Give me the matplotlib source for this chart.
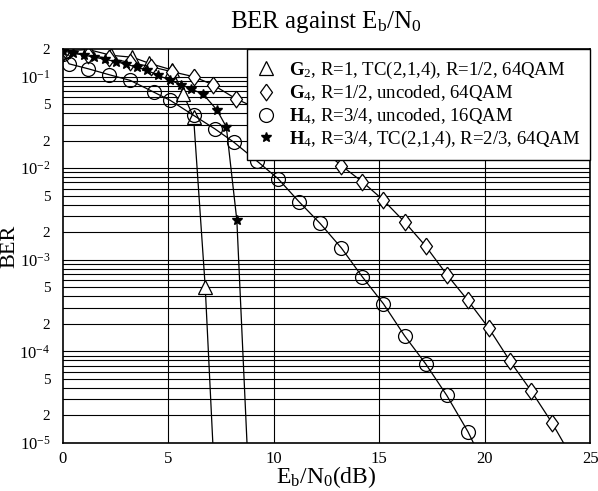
import numpy as np
import matplotlib
matplotlib.use("Agg")
import matplotlib.pyplot as plt
from matplotlib.ticker import FixedLocator

plt.rcParams['font.family'] = ['Liberation Serif', 'DejaVu Serif']
plt.rcParams['mathtext.fontset'] = 'custom'
plt.rcParams['mathtext.rm'] = 'Liberation Serif'
plt.rcParams['mathtext.it'] = 'Liberation Serif:italic'
plt.rcParams['mathtext.bf'] = 'Liberation Serif:bold'

# Series data (Eb/N0 in dB, BER)
tri_x = [0.0, 1.2, 2.3, 3.3, 4.1, 5.2, 5.7, 6.2, 6.75, 7.25]
tri_y = [0.19, 0.198, 0.171, 0.163, 0.14, 0.118, 0.065, 0.036, 5.1e-4, 2.2e-6]

dia_x = [0.0, 1.2, 2.2, 3.2, 4.2, 5.2, 6.2, 7.1, 8.2, 9.2, 10.2, 11.2, 12.2, 13.2,
         14.2, 15.2, 16.2, 17.2, 18.2, 19.2, 20.2, 21.2, 22.2, 23.2, 24.2]
dia_y = [0.185, 0.172, 0.158, 0.143, 0.128, 0.113, 0.1, 0.082, 0.0575, 0.045, 0.034,
         0.025, 0.0168, 0.0107, 0.0071, 0.00447, 0.00259, 0.00141, 6.9e-4, 3.6e-4,
         1.78e-4, 7.8e-5, 3.7e-5, 1.64e-5, 6.5e-6]

cir_x = [0.0, 0.3, 1.2, 2.2, 3.2, 4.3, 5.1, 6.2, 7.2, 8.1, 9.2, 10.2, 11.2, 12.2, 13.2,
         14.2, 15.2, 16.2, 17.2, 18.2, 19.2, 20.2]
cir_y = [0.175, 0.138, 0.122, 0.105, 0.091, 0.068, 0.055, 0.0378, 0.027, 0.0193, 0.012,
         0.0077, 0.0043, 0.00249, 0.00135, 6.5e-4, 3.3e-4, 1.48e-4, 7.3e-5, 3.3e-5,
         1.33e-5, 4.5e-6]

star_x = [0.0, 0.5, 1.0, 1.5, 2.0, 2.5, 3.0, 3.5, 4.0, 4.5, 5.1, 5.6, 6.1, 6.65, 7.3,
          7.75, 8.25, 8.75]
star_y = [0.19, 0.182, 0.172, 0.163, 0.155, 0.146, 0.137, 0.127, 0.117, 0.104, 0.091,
          0.082, 0.073, 0.0645, 0.0435, 0.0283, 0.0027, 8e-6]

labels = [r"$\mathbf{G}_2$, R=1, TC(2,1,4), R=1/2, 64QAM",
          r"$\mathbf{G}_4$, R=1/2, uncoded, 64QAM",
          r"$\mathbf{H}_4$, R=3/4, uncoded, 16QAM",
          r"$\mathbf{H}_4$, R=3/4, TC(2,1,4), R=2/3, 64QAM"]

xticks = [0, 5, 10, 15, 20, 25]
ymajor = [1e-5, 1e-4, 1e-3, 1e-2, 1e-1]
ymajor_labels = [r"$10^{-5}$", r"$10^{-4}$", r"$10^{-3}$", r"$10^{-2}$", r"$10^{-1}$"]
yminor_labeled = [2e-5, 5e-5, 2e-4, 5e-4, 2e-3, 5e-3, 2e-2, 5e-2, 2e-1]
yminor_text = ["2", "5", "2", "5", "2", "5", "2", "5", "2"]

fig = plt.figure(figsize=(5.98, 4.91), dpi=100)
ax = fig.add_axes([0.105, 0.098, 0.882, 0.802])

diamond = [(0, 1), (0.72, 0), (0, -1), (-0.72, 0), (0, 1)]

lw = 0.9
ax.plot(tri_x, tri_y, color='black', lw=lw, marker='^', ms=10, mfc='white',
        mec='black', mew=0.9, label=labels[0])
ax.plot(dia_x, dia_y, color='black', lw=lw, marker=diamond, ms=12, mfc='white',
        mec='black', mew=0.9, label=labels[1])
ax.plot(cir_x, cir_y, color='black', lw=lw, marker='o', ms=10, mfc='none',
        mec='black', mew=0.9, label=labels[2])
ax.plot(star_x, star_y, color='black', lw=lw, marker='*', ms=7, mfc='black',
        mec='black', label=labels[3])

ax.set_yscale('log')
ax.set_xlim(0, 25)
ax.set_ylim(1e-5, 0.2)

# gridlines: all decades and minor values
grid_vals = []
for e in range(-5, 0):
    for m in range(1, 10):
        v = m * 10.0 ** e
        if 1e-5 < v < 0.2:
            grid_vals.append(v)
for v in grid_vals:
    ax.axhline(v, color='black', lw=0.8, zorder=0.5)
for xv in xticks[1:-1]:
    ax.axvline(xv, color='black', lw=0.8, zorder=0.5)

ax.set_xticks(xticks)
ax.set_xticklabels([str(v) for v in xticks])
ax.yaxis.set_major_locator(FixedLocator(ymajor))
ax.set_yticklabels(ymajor_labels)
ax.yaxis.set_minor_locator(FixedLocator(yminor_labeled))
ax.set_yticklabels(yminor_text, minor=True)
ax.tick_params(axis='x', which='both', length=0, labelsize=12, pad=6)
ax.tick_params(axis='y', which='major', length=0, labelsize=12, pad=9)
ax.tick_params(axis='y', which='minor', length=0, labelsize=11, pad=9)

for s in ax.spines.values():
    s.set_linewidth(1.2)

ax.set_xlabel(r"E$_\mathrm{b}$/N$_0$(dB)", fontsize=17, labelpad=-2)
ax.set_ylabel("BER", fontsize=16)
ax.yaxis.set_label_coords(-0.082, 0.50)
ax.set_title(r"BER against E$_\mathrm{b}$/N$_0$", fontsize=18, pad=15)

leg = ax.legend(loc='upper right', fontsize=13.5, frameon=True, fancybox=False,
                edgecolor='black', framealpha=1, borderaxespad=0.0,
                handlelength=1.0, handletextpad=0.7, labelspacing=0.15,
                borderpad=0.55)
leg.get_frame().set_linewidth(1.0)
for h in leg.legend_handles:
    h.set_linestyle('none')

fig.savefig("out.png", dpi=100)
